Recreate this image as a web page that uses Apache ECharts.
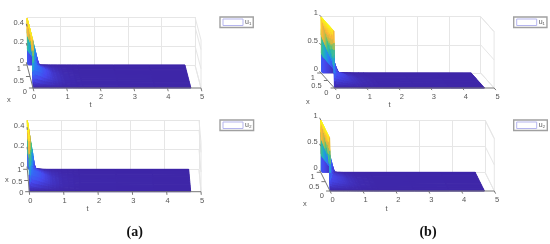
<!DOCTYPE html>
<html><head><meta charset="utf-8">
<style>html,body{margin:0;padding:0;background:#fff}#main{width:550px;height:244px;filter:blur(0.55px)}</style>
<script src="https://cdn.jsdelivr.net/npm/echarts@6/dist/echarts.min.js"></script>
</head><body><div id="main"></div>
<script>
const tNodes = [0,.02,.05,.1,.15,.2,.25,.3,.35,.4,.5,.7,1,1.5,4.7];
const xNodes = [0,.05,.25,.5,.75,.95,1];
const tTicks = [0,1,2,3,4,5];
const xTicks = [0,0.5,1];
const zTicksA = [0,0.2,0.4];
const zTicksB = [0,0.5,1];
const legendNames = ['u\u2081','u\u2082','u\u2081','u\u2082'];

const u1a = [
 [0,0,0,0,0,0,0,0,0,0,0,0,0,0,0],
 [.49,.15,.05,.04,.035,.03,.028,.025,.022,.02,.016,.009,.003,.001,0],
 [.49,.39,.22,.12,.11,.105,.1,.09,.08,.07,.055,.028,.01,.002,0],
 [.49,.43,.35,.22,.14,.12,.11,.1,.09,.08,.065,.03,.01,.002,0],
 [.49,.45,.40,.31,.22,.12,.07,.06,.05,.045,.035,.018,.006,.001,0],
 [.49,.46,.42,.35,.28,.21,.14,.07,.01,.008,.006,.003,.001,0,0],
 [.49,.01,0,0,0,0,0,0,0,0,0,0,0,0,0]];
const u2a = [
 [0,0,0,0,0,0,0,0,0,0,0,0,0,0,0],
 [.5,.1,.04,.035,.03,.028,.025,.022,.02,.018,.014,.007,.002,.001,0],
 [.5,.36,.14,.1,.095,.09,.085,.08,.072,.065,.05,.024,.008,.002,0],
 [.5,.42,.31,.14,.1,.095,.09,.085,.08,.07,.055,.026,.008,.002,0],
 [.5,.44,.36,.23,.09,.07,.06,.05,.045,.04,.03,.015,.005,.001,0],
 [.5,.46,.39,.28,.18,.06,.02,.015,.012,.01,.007,.003,.001,0,0],
 [.5,.01,0,0,0,0,0,0,0,0,0,0,0,0,0]];
const u1b = [
 [0,0,0,0,0,0,0,0,0,0,0,0,0,0,0],
 [1,.35,.06,.05,.045,.04,.035,.03,.028,.025,.02,.012,.005,.002,0],
 [1,.88,.62,.2,.14,.13,.125,.12,.11,.1,.085,.05,.02,.005,0],
 [1,.93,.82,.62,.42,.22,.16,.15,.14,.13,.11,.06,.025,.006,0],
 [1,.95,.87,.74,.6,.46,.33,.2,.1,.08,.07,.04,.015,.004,0],
 [1,.96,.9,.8,.7,.6,.5,.4,.3,.2,.02,.01,.004,.001,0],
 [1,.03,0,0,0,0,0,0,0,0,0,0,0,0,0]];
const u2b = [
 [0,0,0,0,0,0,0,0,0,0,0,0,0,0,0],
 [1,.25,.05,.045,.04,.035,.03,.028,.025,.022,.018,.01,.004,.001,0],
 [1,.84,.5,.13,.12,.115,.11,.1,.09,.085,.07,.04,.015,.004,0],
 [1,.92,.78,.52,.27,.12,.11,.105,.1,.09,.08,.045,.018,.004,0],
 [1,.94,.85,.68,.5,.33,.16,.08,.07,.06,.05,.028,.01,.002,0],
 [1,.95,.88,.76,.64,.51,.38,.25,.13,.02,.012,.006,.002,0,0],
 [1,.03,0,0,0,0,0,0,0,0,0,0,0,0,0]];

const surfaces = [u1a,u2a,u1b,u2b];
const zTickSets = [zTicksA,zTicksA,zTicksB,zTicksB];
const zMaxes = [0.5,0.5,1,1];
const zStep = [0.2,0.2,0.5,0.5];

/* layout: back wall rectangle and the screen offset of the depth direction */
const layout = [
 {left:27,  top:17,  width:168,   height:48,   dx:6,    dy:23,   lab:[-6,4], tName:[91,105],  xName:[9,100],  legend:[220,17],  pad:14},
 {left:27.3,top:120, width:171.7, height:49.3, dx:2,    dy:22.4, lab:[-6,1], tName:[88,209],  xName:[7,180],  legend:[220,120], pad:6},
 {left:321, top:16.7,width:159.7, height:56.3, dx:13.4, dy:15,   lab:[-6,5], tName:[390,105], xName:[308,102],legend:[513.7,17], pad:34},
 {left:320.7,top:120,width:164.3, height:52.3, dx:9.3,  dy:18.7, lab:[-6,5], tName:[387,209], xName:[305,204],legend:[513.7,120],pad:24}
];

const parula = [[62,38,168],[71,74,240],[44,125,249],[29,170,205],[60,195,140],[190,190,70],[250,180,60],[253,215,45],[249,251,21]];
function cmap(v){
  v=Math.max(0,Math.min(1,v))*(parula.length-1);
  const i=Math.min(parula.length-2,Math.floor(v)),f=v-i,a=parula[i],b=parula[i+1];
  return 'rgb('+a.map((c,k)=>Math.round(c+(b[k]-c)*f)).join(',')+')';
}
const AXIS='#777', WALL='#e6e6e6', TXT='#555', FONT='"Liberation Sans",Arial,sans-serif';

const grids=[],xAxes=[],yAxes=[],series=[],legends=[],graphics=[];
layout.forEach((L,p)=>{
  const zMax=zMaxes[p], kt=L.dx/(L.width/5), kz=L.dy/(L.height/zMax);
  const proj=(api,t,x,z)=>api.coord([t+(1-x)*kt, z-(1-x)*kz]);
  grids.push({left:L.left,top:L.top,width:L.width,height:L.height,containLabel:false});
  xAxes.push({type:'value',gridIndex:p,min:0,max:5,interval:1,offset:L.dy,
    axisLine:{show:false},axisTick:{show:false},
    splitLine:{show:true,lineStyle:{color:WALL,width:1}},
    axisLabel:{show:true,margin:5,fontSize:7.5,color:TXT,fontFamily:FONT,padding:[0,0,0,L.pad]}});
  yAxes.push({type:'value',gridIndex:p,min:0,max:zMax,interval:zStep[p],
    axisLine:{show:false},axisTick:{show:false},
    splitLine:{show:true,lineStyle:{color:WALL,width:1}},
    axisLabel:{show:true,margin:3,fontSize:7.5,color:TXT,fontFamily:FONT,verticalAlign:'bottom',
      formatter:v=>zTickSets[p].some(z=>Math.abs(z-v)<1e-9)?String(v):''}});

  /* light walls and dark axes */
  const seg=[];
  zTickSets[p].concat([zMax]).forEach(z=>seg.push([5,1,z,5,0,z,0]));
  seg.push([5,0,0,5,0,zMax,0]);
  seg.push([5,1,0,5,0,0,0]);
  series.push({type:'custom',xAxisIndex:p,yAxisIndex:p,silent:true,z:2,data:seg,
    renderItem:(params,api)=>lineShape(api,WALL)});
  function lineShape(api,color){
    const a=proj(api,api.value(0),api.value(1),api.value(2)),b=proj(api,api.value(3),api.value(4),api.value(5));
    return {type:'line',shape:{x1:a[0],y1:a[1],x2:b[0],y2:b[1]},style:{stroke:color,lineWidth:1,fill:null}};
  }

  /* surface, painted from far to near */
  const M=surfaces[p], cells=[];
  for(let r=xNodes.length-1;r>0;r--) for(let c=0;c<tNodes.length-1;c++)
    cells.push([tNodes[c],tNodes[c+1],xNodes[r],xNodes[r-1],M[r][c],M[r][c+1],M[r-1][c],M[r-1][c+1]]);
  const SUB=3;
  series.push({type:'custom',name:legendNames[p],xAxisIndex:p,yAxisIndex:p,silent:true,z:3,data:cells,
    itemStyle:{color:'#fff',borderColor:'#b5b5ee'},
    renderItem:(params,api)=>{
      const t0=api.value(0),t1=api.value(1),x0=api.value(2),x1=api.value(3),
            a=api.value(4),b=api.value(5),c=api.value(6),d=api.value(7);
      const uAt=(s,q)=>(a*(1-s)+b*s)*(1-q)+(c*(1-s)+d*s)*q;
      const pt=(s,q)=>proj(api,t0+(t1-t0)*s,x0+(x1-x0)*q,uAt(s,q));
      const ch=[];
      for(let j=0;j<SUB;j++)for(let i=0;i<SUB;i++){
        const s0=i/SUB,s1=(i+1)/SUB,q0=j/SUB,q1=(j+1)/SUB;
        const col=cmap(uAt((s0+s1)/2,(q0+q1)/2)/zMax);
        ch.push({type:'polygon',shape:{points:[pt(s0,q0),pt(s1,q0),pt(s1,q1),pt(s0,q1)]},
          style:{fill:col,stroke:col,lineWidth:1,lineJoin:'round'}});
      }
      return {type:'group',children:ch};
    }});

  /* axes and ticks in front of the surface */
  const ax=[[0,0,0,5,0,0],[0,1,0,0,0,0]];
  tTicks.forEach(t=>ax.push([t,0,0,t,-0.14,0]));
  xTicks.forEach(x=>ax.push([0,x,0,-0.12,x,0]));
  zTickSets[p].forEach(z=>ax.push([0,1,z,0,1.12,z]));
  series.push({type:'custom',xAxisIndex:p,yAxisIndex:p,silent:true,z:4,data:ax,
    renderItem:(params,api)=>lineShape(api,AXIS)});

  /* depth axis tick labels */
  series.push({type:'custom',xAxisIndex:p,yAxisIndex:p,silent:true,z:5,data:xTicks.map(v=>[v]),
    renderItem:(params,api)=>{
      const v=api.value(0),q=proj(api,0,v,0);
      return {type:'text',x:q[0]+L.lab[0],y:q[1]+L.lab[1],
        style:{text:String(v),align:'right',verticalAlign:'middle',fontSize:7.5,fill:TXT,fontFamily:FONT}};
    }});

  legends.push({data:[legendNames[p]],left:L.legend[0],top:L.legend[1],orient:'horizontal',icon:'rect',
    itemWidth:20,itemHeight:6.5,itemGap:2,padding:[1.5,2,1.5,2.5],borderColor:'#a0a0a0',borderWidth:1.4,borderRadius:0,
    backgroundColor:'#fff',selectedMode:false,
    itemStyle:{color:'#fff',borderColor:'#b5b5ee',borderWidth:1},
    textStyle:{fontSize:7,color:TXT,fontFamily:FONT,padding:[0,0,0,-3]}});

  graphics.push({type:'text',left:L.tName[0]-1.5,top:L.tName[1]-4.5,style:{text:'t',fontSize:7.5,fill:TXT,fontFamily:FONT}});
  graphics.push({type:'text',left:L.xName[0]-2,top:L.xName[1]-4.5,style:{text:'x',fontSize:7.5,fill:TXT,fontFamily:FONT}});
});

const capStyle={n:{fontFamily:'"Liberation Serif",serif',fontSize:14,color:'#111'},
                b:{fontFamily:'"Liberation Serif",serif',fontSize:14,fontWeight:'bold',color:'#111'}};
const chart=echarts.init(document.getElementById('main'),null,{renderer:'canvas'});
chart.setOption({animation:false,backgroundColor:'#fff',
  title:[
   {text:'{n|(}{b|a}{n|)}',left:134.7,top:225,textAlign:'center',padding:0,textStyle:{rich:capStyle}},
   {text:'{n|(}{b|b}{n|)}',left:428,top:225,textAlign:'center',padding:0,textStyle:{rich:capStyle}}],
  grid:grids,xAxis:xAxes,yAxis:yAxes,series:series,legend:legends,graphic:graphics});
</script></body></html>
